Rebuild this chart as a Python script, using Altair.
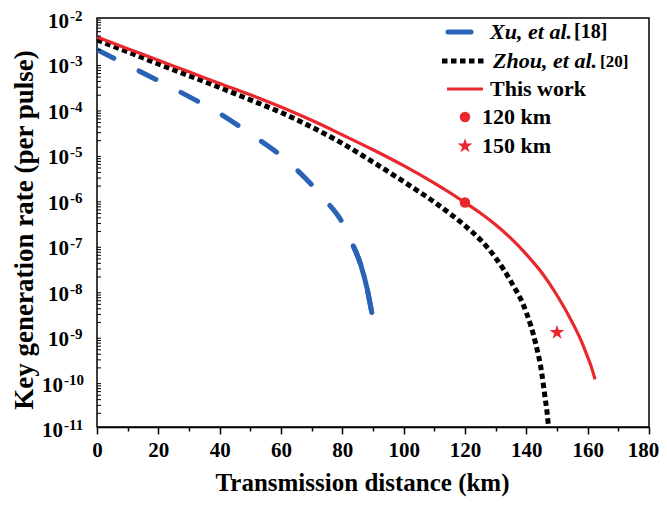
import math
import altair as alt
import pandas as pd

# ---------------- data ----------------
this_km = [0, 10, 20, 30, 40, 50, 60, 70, 80, 90, 100, 110, 120, 125, 130, 135, 140, 145, 150, 155,
           158, 160, 161.3, 162.4]
this_rate = [3.80e-3, 2.11e-3, 1.17e-3, 6.53e-4, 3.63e-4, 2.04e-4, 1.10e-4, 5.62e-5, 2.69e-5, 1.26e-5,
             5.62e-6, 2.32e-6, 8.71e-7, 5.13e-7, 2.82e-7, 1.41e-7, 6.31e-8, 2.51e-8, 7.94e-9, 2.0e-9,
             7.59e-10, 3.47e-10, 2.0e-10, 1.12e-10]

zhou_km = [0, 10, 20, 30, 40, 50, 60, 70, 80, 90, 100, 105, 110, 115, 120, 125, 130, 135, 140, 143,
           145, 146, 146.8, 147.3]
zhou_rate = [3.31e-3, 1.80e-3, 9.77e-4, 5.37e-4, 2.95e-4, 1.58e-4, 8.32e-5, 3.98e-5, 1.74e-5, 6.76e-6,
             2.51e-6, 1.51e-6, 8.91e-7, 5.01e-7, 2.69e-7, 1.32e-7, 5.25e-8, 1.58e-8, 3.31e-9, 7.08e-10,
             1.58e-10, 5.01e-11, 2.0e-11, 8.9e-12]

xu_km = [0, 10, 20, 30, 40, 50, 60, 65, 70, 75, 80, 83.6, 86, 88, 89.6]
xu_rate = [2.0e-3, 9.12e-4, 4.17e-4, 1.86e-4, 7.94e-5, 2.82e-5, 9.33e-6, 4.68e-6, 2.14e-6, 8.91e-7,
           3.16e-7, 9.55e-8, 3.72e-8, 1.17e-8, 3.31e-9]
xu_last_dash_km = 83.6   # where the final (long) dash of the Xu curve begins

pt120_km = [120]
pt120_rate = [8.71e-7]
pt150_km = [150]
pt150_rate = [1.2e-9]

x_tick_values = list(range(0, 181, 10))
y_exponents = [-2, -3, -4, -5, -6, -7, -8, -9, -10, -11]
y_minor_mult = [2, 3, 4, 5, 6, 7, 8, 9]

x_title = "Transmission distance (km)"
y_title = "Key generation rate (per pulse)"
legend_names = ["Xu, et al.", "Zhou, et al.", "This work", "120 km", "150 km"]
legend_refs = ["[18]", "[20]"]

# ---------------- tick tables ----------------
decades = pd.DataFrame({
    "v": [float(f"1e{e}") for e in y_exponents],
    "exp": [str(e) for e in y_exponents],
    "ndig": [len(str(abs(e))) for e in y_exponents],
})
minor_vals = pd.DataFrame({
    "v": [float(f"{m}e{e}") for e in y_exponents[1:] for m in y_minor_mult]
})

FONT = "Liberation Serif"
RED = "#E8282C"
BLUE = "#2A63B5"
W, H = 552, 409

# dash pattern of the blue line: 7 periods up to the start of the final long dash
def path_len(km, rate):
    pts = [(k / 180 * W, (-2 - math.log10(r)) / 9 * H) for k, r in zip(km, rate)]
    return sum(math.dist(a, b) for a, b in zip(pts[:-1], pts[1:]))

BLUE_W = 5.0
DASH_FRAC = 0.4
n_head = xu_km.index(xu_last_dash_km) + 1
L_head = path_len(xu_km[:n_head], xu_rate[:n_head])
period = L_head / 7
blue_dash = [round(period * DASH_FRAC, 2), round(period * (1 - DASH_FRAC), 2)]

xscale = alt.Scale(domain=[0, 180], nice=False, zero=False)
yscale = alt.Scale(type="log", domain=[1e-11, 1e-2], nice=False)

xaxis = alt.Axis(
    values=x_tick_values,
    labelExpr="datum.value % 20 == 0 ? datum.label : ''",
    tickSize={"condition": {"test": "datum.value % 20 == 0", "value": 7}, "value": 4},
    labelOffset={"condition": {"test": "datum.value == 180", "value": -6}, "value": 0},
    labelPadding=5, labelFlush=False, labelOverlap=False,
    labelFontSize=21,
    title=x_title, titleX=265, titleY=55, titleBaseline="middle",
    titleFontSize=25,
)
yaxis = alt.Axis(
    values=[float(f"1e{e}") for e in y_exponents],
    labels=False, tickSize=7, title=None,
)

def df(km, rate):
    return pd.DataFrame({"km": km, "rate": rate})

def enc(chart):
    return chart.encode(
        x=alt.X("km:Q", scale=xscale, axis=xaxis),
        y=alt.Y("rate:Q", scale=yscale, axis=yaxis),
    )

xu_df = df(xu_km, xu_rate)
xu_line = enc(alt.Chart(xu_df).mark_line(
    color=BLUE, strokeWidth=BLUE_W, strokeDash=blue_dash, strokeCap="round",
    interpolate="monotone", clip=True))
xu_tail = enc(alt.Chart(xu_df).transform_filter(f"datum.km >= {xu_last_dash_km}").mark_line(
    color=BLUE, strokeWidth=BLUE_W, strokeCap="round", interpolate="monotone", clip=True))
zhou_line = enc(alt.Chart(df(zhou_km, zhou_rate)).mark_line(
    color="black", strokeWidth=5, strokeDash=[5.5, 3.5],
    interpolate="monotone", clip=True))
this_line = enc(alt.Chart(df(this_km, this_rate)).mark_line(
    color=RED, strokeWidth=3.2, interpolate="monotone", clip=True))

STAR = ("M0,-1L0.2245,-0.309L0.951,-0.309L0.363,0.118L0.588,0.809L0,0.382"
        "L-0.588,0.809L-0.363,0.118L-0.951,-0.309L-0.2245,-0.309Z")

p120 = enc(alt.Chart(df(pt120_km, pt120_rate)).mark_point(
    shape="circle", filled=True, color=RED, size=110, opacity=1))
p150 = enc(alt.Chart(df(pt150_km, pt150_rate)).mark_point(
    shape=STAR, filled=True, color=RED, size=240, opacity=1))

# ---------------- y tick labels (10 with superscript exponent) ----------------
ylab_y = alt.Y("v:Q", scale=yscale, axis=None)

def tens(ndig, x_ten, x_exp):
    base = alt.Chart(decades).transform_filter(f"datum.ndig == {ndig}")
    ten = base.mark_text(
        align="right", baseline="middle", dy=4, font=FONT, fontSize=21,
        fontWeight="bold", color="black",
    ).encode(y=ylab_y, x=alt.value(x_ten), text=alt.value("10"))
    ex = base.mark_text(
        align="left", baseline="middle", dy=-2, font=FONT, fontSize=15,
        fontWeight="bold", color="black",
    ).encode(y=ylab_y, x=alt.value(x_exp), text="exp:N")
    return [ten, ex]

minor_ticks = alt.Chart(minor_vals).mark_rule(color="black", strokeWidth=1).encode(
    y=ylab_y, x=alt.value(0), x2=alt.value(4))

one = alt.Data(values=[{"k": 1}])

y_title_mark = alt.Chart(one).mark_text(
    angle=270, align="center", baseline="middle", font=FONT, fontSize=27,
    fontWeight="bold", color="black",
).encode(x=alt.value(-72), y=alt.value(212), text=alt.value(y_title))

# ---------------- manual legend ----------------
def ltext(txt, x, y, size=22, style="normal", align="left"):
    return alt.Chart(one).mark_text(
        align=align, baseline="middle", font=FONT, fontSize=size,
        fontWeight="bold", fontStyle=style, color="black",
    ).encode(x=alt.value(x), y=alt.value(y), text=alt.value(txt))

leg = [
    alt.Chart(one).mark_rule(color=BLUE, strokeWidth=5, strokeCap="round").encode(
        x=alt.value(351), x2=alt.value(374), y=alt.value(14)),
    ltext(legend_names[0], 475, 14, style="italic", align="right"),
    ltext(legend_refs[0], 477, 14, size=20),
    alt.Chart(one).mark_rule(color="black", strokeWidth=5, strokeDash=[5.5, 3.5]).encode(
        x=alt.value(345), x2=alt.value(388), y=alt.value(43)),
    ltext(legend_names[1], 500, 43, style="italic", align="right"),
    ltext(legend_refs[1], 503, 44, size=17),
    alt.Chart(one).mark_rule(color=RED, strokeWidth=3.2).encode(
        x=alt.value(350), x2=alt.value(386), y=alt.value(71)),
    ltext(legend_names[2], 393, 71),
    alt.Chart(one).mark_point(shape="circle", filled=True, color=RED, size=110, opacity=1).encode(
        x=alt.value(368), y=alt.value(99)),
    ltext(legend_names[3], 385, 99),
    alt.Chart(one).mark_point(shape=STAR, filled=True, color=RED, size=240, opacity=1).encode(
        x=alt.value(368), y=alt.value(128)),
    ltext(legend_names[4], 385, 128),
]

chart = alt.layer(
    xu_line, xu_tail, zhou_line, this_line, p120, p150,
    minor_ticks, *tens(1, -28, -27), *tens(2, -34, -33), y_title_mark, *leg
).properties(
    width=W, height=H,
    autosize=alt.AutoSizeParams(type="none"),
    padding={"left": 89, "top": 10, "right": 10, "bottom": 70},
).configure_view(
    stroke="black", strokeWidth=1.5,
).configure_axis(
    grid=False, domainColor="black", domainWidth=1.5, tickColor="black", tickWidth=1.5,
    labelFont=FONT, labelFontSize=21, labelFontWeight="bold", labelColor="black",
    titleFont=FONT, titleFontWeight="bold", titleColor="black",
)

chart.save("out.html", embed_options={"renderer": "svg", "actions": False})
